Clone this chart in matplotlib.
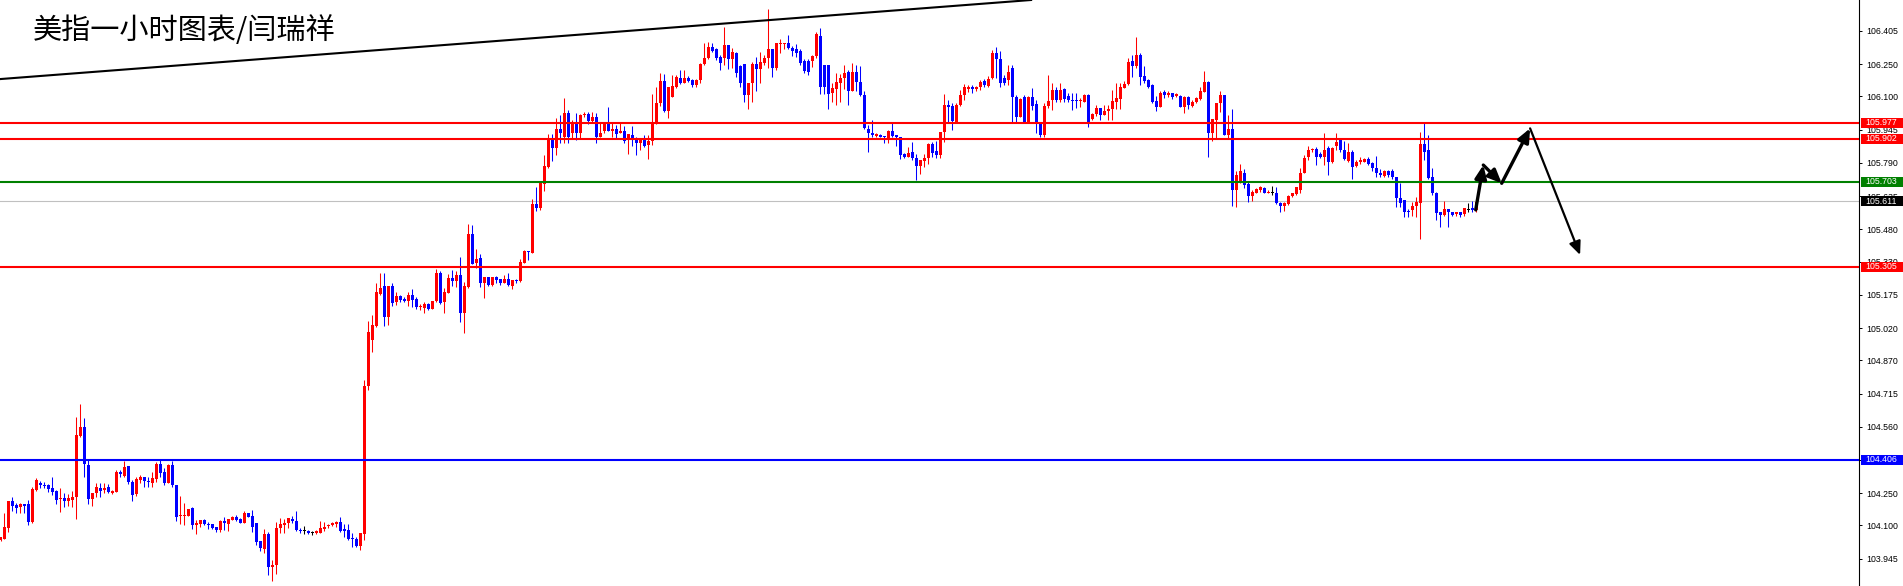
'''
============================================================
USD index (DXY) 1-hour chart, MT4 style candles
============================================================
'''
import matplotlib
matplotlib.use('Agg')
from matplotlib import pyplot as plt
from matplotlib.patches import Rectangle
import matplotlib.transforms as mtransforms
import numpy as np

# ============================================================
# Data (one entry per hourly candle, oldest first)
# ============================================================
opens = [
    104.032, 104.038, 104.088, 104.215, 104.197, 104.184, 104.200, 104.200, 104.116, 104.265,
    104.296, 104.289, 104.287, 104.274, 104.262, 104.222, 104.228, 104.215, 104.219, 104.231,
    104.517, 104.557, 104.382, 104.225, 104.253, 104.275, 104.265, 104.278, 104.250, 104.256,
    104.349, 104.330, 104.377, 104.302, 104.247, 104.312, 104.324, 104.309, 104.299, 104.318,
    104.386, 104.349, 104.299, 104.380, 104.287, 104.144, 104.147, 104.146, 104.180, 104.100,
    104.107, 104.125, 104.108, 104.107, 104.094, 104.079, 104.122, 104.107, 104.125, 104.141,
    104.132, 104.113, 104.160, 104.144, 104.110, 104.026, 103.992, 104.060, 103.905, 103.914,
    104.087, 104.100, 104.110, 104.132, 104.119, 104.080, 104.076, 104.076, 104.069, 104.066,
    104.066, 104.085, 104.097, 104.100, 104.107, 104.116, 104.082, 104.079, 104.041, 104.035,
    104.004, 104.060,
    104.750, 104.964, 105.030, 105.179, 105.216, 105.070, 105.216, 105.141, 105.169, 105.157,
    105.148, 105.173, 105.157, 105.117, 105.114, 105.132, 105.110, 105.145, 105.278, 105.141,
    105.185, 105.253, 105.241, 105.266, 105.092, 105.210, 105.459, 105.322, 105.347, 105.229,
    105.256, 105.219, 105.256, 105.247, 105.232, 105.247, 105.216, 105.244, 105.238, 105.325,
    105.378, 105.371, 105.599, 105.580, 105.692, 105.770, 105.900, 105.860,
    105.947, 105.912, 106.024, 105.931, 105.971, 105.931, 106.013, 106.018, 105.987, 106.002,
    105.909, 105.940, 105.971, 105.940, 105.947, 105.931, 105.940, 105.897, 105.922, 105.897,
    105.884, 105.900, 105.872, 105.894, 105.971, 106.068, 106.173, 106.034, 106.099, 106.142,
    106.186, 106.164, 106.186, 106.177, 106.153, 106.177, 106.251, 106.278, 106.329, 106.320,
    106.282, 106.278, 106.340, 106.273, 106.304, 106.242, 106.251, 106.107, 106.164, 106.251,
    106.226, 106.257, 106.278, 106.320, 106.231, 106.344, 106.344, 106.348, 106.324, 106.320,
    106.313, 106.267, 106.267, 106.267, 106.288, 106.382, 106.246, 106.246, 106.117, 106.133,
    106.164, 106.184, 106.215, 106.127, 106.215, 106.169, 106.107,
    105.947, 105.931, 105.916, 105.919, 105.916, 105.900, 105.937, 105.920, 105.912, 105.832,
    105.819, 105.841, 105.811, 105.776, 105.801, 105.811, 105.878, 105.847, 105.827, 105.936,
    106.060, 106.055, 105.982, 106.060,
    106.107, 106.133, 106.142, 106.133, 106.142, 106.173, 106.149, 106.184, 106.304, 106.273,
    106.184, 106.177, 106.231, 106.096, 106.006, 106.099, 105.978, 106.099, 106.065, 105.978,
    105.920, 106.055, 106.083, 106.130, 106.083, 106.133, 106.102, 106.083, 106.083, 106.080,
    106.076, 106.107,
    105.993, 106.018, 106.046, 106.015, 106.034, 106.040, 106.076, 106.090, 106.139, 106.158,
    106.267, 106.242, 106.293, 106.195, 106.177, 106.153, 106.080, 106.052, 106.122, 106.107,
    106.114, 106.102, 106.102, 106.052, 106.099, 106.055, 106.076, 106.086, 106.122, 106.169,
    105.928, 105.991, 106.068, 106.107, 105.921, 105.947, 105.664, 105.703, 105.742, 105.692,
    105.636, 105.652, 105.664, 105.672, 105.652, 105.652, 105.652, 105.605, 105.590, 105.599,
    105.636, 105.646, 105.664, 105.745, 105.816, 105.848, 105.854, 105.832, 105.816, 105.858,
    105.796, 105.869, 105.897, 105.851, 105.801, 105.843, 105.776, 105.792, 105.796, 105.807,
    105.789, 105.765, 105.745, 105.729, 105.754, 105.750, 105.726, 105.625, 105.618, 105.568,
    105.571, 105.590, 105.605, 105.879, 105.848, 105.723, 105.652, 105.559, 105.548, 105.574,
    105.559, 105.551, 105.559, 105.552, 105.574, 105.579, 105.571,
]
highs = [
    104.048, 104.156, 104.215, 104.234, 104.206, 104.203, 104.200, 104.219, 104.281, 104.320,
    104.307, 104.301, 104.292, 104.324, 104.265, 104.273, 104.250, 104.247, 104.261, 104.607,
    104.666, 104.599, 104.405, 104.253, 104.296, 104.296, 104.296, 104.293, 104.265, 104.358,
    104.358, 104.399, 104.377, 104.312, 104.324, 104.334, 104.327, 104.327, 104.349, 104.397,
    104.408, 104.366, 104.386, 104.402, 104.287, 104.237, 104.206, 104.177, 104.184, 104.125,
    104.125, 104.128, 104.118, 104.107, 104.094, 104.125, 104.138, 104.128, 104.144, 104.147,
    104.135, 104.169, 104.160, 104.172, 104.113, 104.026, 104.082, 104.069, 103.939, 104.116,
    104.133, 104.128, 104.135, 104.144, 104.166, 104.088, 104.097, 104.079, 104.076, 104.079,
    104.119, 104.116, 104.107, 104.116, 104.119, 104.141, 104.107, 104.107, 104.063, 104.048,
    104.066, 104.778,
    105.053, 105.081, 105.229, 105.278, 105.278, 105.216, 105.229, 105.188, 105.174, 105.163,
    105.188, 105.201, 105.163, 105.132, 105.141, 105.138, 105.148, 105.294, 105.284, 105.205,
    105.272, 105.291, 105.288, 105.350, 105.236, 105.505, 105.502, 105.387, 105.365, 105.256,
    105.256, 105.260, 105.263, 105.247, 105.266, 105.275, 105.244, 105.250, 105.340, 105.384,
    105.378, 105.623, 105.677, 105.698, 105.827, 105.925, 105.925, 105.998,
    106.013, 106.093, 106.037, 105.990, 106.021, 106.018, 106.029, 106.029, 106.029, 106.021,
    105.978, 105.971, 106.049, 105.975, 105.967, 105.978, 105.962, 105.925, 105.962, 105.909,
    105.905, 105.920, 105.920, 106.111, 106.142, 106.208, 106.204, 106.142, 106.200, 106.198,
    106.223, 106.223, 106.195, 106.180, 106.183, 106.257, 106.351, 106.355, 106.351, 106.324,
    106.293, 106.422, 106.340, 106.324, 106.309, 106.246, 106.251, 106.164, 106.262, 106.285,
    106.309, 106.293, 106.506, 106.320, 106.351, 106.366, 106.351, 106.386, 106.335, 106.344,
    106.320, 106.273, 106.273, 106.293, 106.402, 106.417, 106.246, 106.246, 106.161, 106.211,
    106.204, 106.246, 106.223, 106.254, 106.246, 106.242, 106.127,
    105.967, 105.990, 105.928, 105.925, 105.916, 105.944, 105.978, 105.920, 105.912, 105.835,
    105.863, 105.889, 105.832, 105.804, 105.832, 105.884, 105.889, 105.894, 105.936, 106.111,
    106.083, 106.071, 106.071, 106.130,
    106.158, 106.153, 106.153, 106.149, 106.177, 106.180, 106.195, 106.316, 106.332, 106.313,
    106.200, 106.246, 106.246, 106.107, 106.091, 106.107, 106.102, 106.138, 106.083, 105.982,
    106.068, 106.200, 106.164, 106.142, 106.164, 106.138, 106.114, 106.114, 106.114, 106.091,
    106.111, 106.111,
    106.021, 106.060, 106.046, 106.060, 106.060, 106.130, 106.164, 106.164, 106.174, 106.278,
    106.293, 106.379, 106.304, 106.242, 106.180, 106.158, 106.102, 106.127, 106.130, 106.127,
    106.118, 106.114, 106.107, 106.102, 106.102, 106.083, 106.096, 106.146, 106.220, 106.174,
    105.994, 106.071, 106.123, 106.107, 106.014, 106.040, 105.754, 105.785, 105.761, 105.703,
    105.664, 105.672, 105.683, 105.677, 105.664, 105.683, 105.680, 105.610, 105.610, 105.641,
    105.652, 105.680, 105.765, 105.827, 105.869, 105.858, 105.866, 105.843, 105.931, 105.869,
    105.866, 105.928, 105.900, 105.890, 105.885, 105.848, 105.804, 105.816, 105.812, 105.816,
    105.792, 105.823, 105.761, 105.757, 105.757, 105.761, 105.726, 105.698, 105.618, 105.574,
    105.610, 105.633, 105.936, 105.978, 105.921, 105.765, 105.656, 105.563, 105.614, 105.574,
    105.563, 105.559, 105.562, 105.579, 105.605, 105.614, 105.614,
]
lows = [
    104.026, 104.035, 104.071, 104.169, 104.160, 104.160, 104.160, 104.100, 104.110, 104.262,
    104.276, 104.276, 104.257, 104.240, 104.198, 104.164, 104.184, 104.192, 104.184, 104.132,
    104.514, 104.327, 104.200, 104.191, 104.231, 104.234, 104.250, 104.250, 104.247, 104.256,
    104.327, 104.327, 104.293, 104.215, 104.237, 104.296, 104.281, 104.281, 104.278, 104.304,
    104.327, 104.289, 104.296, 104.281, 104.122, 104.107, 104.104, 104.144, 104.085, 104.060,
    104.094, 104.100, 104.085, 104.085, 104.071, 104.071, 104.079, 104.076, 104.125, 104.122,
    104.110, 104.110, 104.141, 104.071, 104.007, 103.979, 103.970, 103.869, 103.843, 103.874,
    104.063, 104.063, 104.087, 104.110, 104.076, 104.063, 104.060, 104.060, 104.055, 104.060,
    104.063, 104.076, 104.088, 104.097, 104.094, 104.069, 104.048, 104.032, 104.001, 103.998,
    103.985, 104.032,
    104.731, 104.909, 105.026, 105.176, 105.030, 105.034, 105.123, 105.126, 105.143, 105.143,
    105.123, 105.117, 105.107, 105.104, 105.089, 105.104, 105.107, 105.141, 105.132, 105.092,
    105.182, 105.216, 105.213, 105.048, 104.998, 105.207, 105.319, 105.298, 105.213, 105.160,
    105.216, 105.216, 105.232, 105.219, 105.229, 105.216, 105.201, 105.229, 105.235, 105.322,
    105.337, 105.370, 105.568, 105.571, 105.661, 105.765, 105.801, 105.827,
    105.881, 105.884, 105.884, 105.900, 105.897, 105.900, 106.002, 105.971, 105.975, 105.884,
    105.909, 105.931, 105.940, 105.912, 105.905, 105.928, 105.884, 105.832, 105.869, 105.827,
    105.850, 105.866, 105.807, 105.874, 105.971, 106.055, 106.029, 105.999, 106.096, 106.138,
    106.158, 106.161, 106.169, 106.142, 106.145, 106.161, 106.246, 106.273, 106.309, 106.270,
    106.223, 106.246, 106.226, 106.231, 106.189, 106.142, 106.076, 106.040, 106.076, 106.127,
    106.164, 106.246, 106.231, 106.189, 106.223, 106.304, 106.320, 106.320, 106.288, 106.282,
    106.246, 106.211, 106.200, 106.239, 106.278, 106.111, 106.111, 106.040, 106.076, 106.060,
    106.076, 106.133, 106.060, 106.127, 106.127, 106.102, 105.947,
    105.843, 105.912, 105.912, 105.909, 105.885, 105.885, 105.912, 105.869, 105.807, 105.811,
    105.819, 105.804, 105.710, 105.738, 105.773, 105.785, 105.819, 105.811, 105.811, 105.889,
    105.975, 105.944, 105.978, 106.055,
    106.083, 106.122, 106.117, 106.127, 106.130, 106.142, 106.142, 106.180, 106.184, 106.142,
    106.153, 106.153, 105.982, 105.978, 106.002, 105.975, 105.975, 106.037, 105.928, 105.909,
    105.909, 106.044, 106.037, 106.076, 106.076, 106.076, 106.076, 106.037, 106.044, 106.049,
    106.076, 105.959,
    105.990, 106.009, 105.990, 106.013, 105.990, 105.990, 106.040, 106.040, 106.138, 106.153,
    106.189, 106.231, 106.153, 106.164, 106.138, 106.068, 106.034, 106.049, 106.091, 106.096,
    106.090, 106.096, 106.049, 106.024, 106.040, 106.049, 106.071, 106.083, 106.122, 105.816,
    105.890, 105.900, 106.029, 105.921, 105.900, 105.590, 105.586, 105.698, 105.672, 105.610,
    105.614, 105.649, 105.656, 105.649, 105.649, 105.641, 105.599, 105.563, 105.568, 105.594,
    105.633, 105.641, 105.649, 105.742, 105.804, 105.843, 105.781, 105.812, 105.781, 105.734,
    105.789, 105.851, 105.843, 105.804, 105.796, 105.714, 105.770, 105.785, 105.792, 105.781,
    105.750, 105.726, 105.723, 105.726, 105.723, 105.714, 105.583, 105.583, 105.540, 105.537,
    105.543, 105.537, 105.434, 105.804, 105.714, 105.641, 105.524, 105.493, 105.543, 105.493,
    105.543, 105.543, 105.540, 105.543, 105.563, 105.559, 105.559,
]
closes = [
    104.045, 104.094, 104.215, 104.191, 104.183, 104.201, 104.191, 104.116, 104.270, 104.312,
    104.287, 104.284, 104.271, 104.256, 104.219, 104.228, 104.212, 104.228, 104.234, 104.522,
    104.560, 104.385, 104.225, 104.253, 104.278, 104.262, 104.276, 104.257, 104.261, 104.349,
    104.338, 104.371, 104.302, 104.242, 104.316, 104.326, 104.309, 104.301, 104.321, 104.386,
    104.346, 104.299, 104.380, 104.287, 104.141, 104.149, 104.150, 104.177, 104.102, 104.110,
    104.125, 104.107, 104.105, 104.088, 104.079, 104.122, 104.113, 104.128, 104.141, 104.125,
    104.113, 104.160, 104.141, 104.094, 104.023, 103.995, 104.060, 103.905, 103.914, 104.088,
    104.107, 104.110, 104.135, 104.119, 104.079, 104.076, 104.076, 104.066, 104.069, 104.073,
    104.088, 104.094, 104.104, 104.110, 104.116, 104.076, 104.073, 104.038, 104.035, 104.004,
    104.063, 104.750,
    105.002, 105.034, 105.188, 105.207, 105.070, 105.216, 105.138, 105.169, 105.151, 105.148,
    105.173, 105.151, 105.117, 105.123, 105.132, 105.110, 105.145, 105.278, 105.135, 105.188,
    105.253, 105.241, 105.266, 105.092, 105.216, 105.459, 105.319, 105.340, 105.232, 105.256,
    105.219, 105.256, 105.244, 105.232, 105.247, 105.219, 105.244, 105.238, 105.328, 105.378,
    105.375, 105.598, 105.580, 105.695, 105.776, 105.905, 105.860, 105.947,
    105.928, 106.024, 105.912, 105.971, 105.931, 106.013, 106.018, 105.987, 106.006, 105.912,
    105.931, 105.971, 105.940, 105.947, 105.925, 105.940, 105.894, 105.925, 105.897, 105.884,
    105.900, 105.869, 105.894, 105.971, 106.068, 106.173, 106.034, 106.142, 106.149, 106.189,
    106.161, 106.186, 106.173, 106.153, 106.177, 106.251, 106.278, 106.329, 106.313, 106.278,
    106.254, 106.340, 106.273, 106.309, 106.211, 106.164, 106.107, 106.164, 106.251, 106.226,
    106.262, 106.278, 106.320, 106.231, 106.351, 106.351, 106.346, 106.324, 106.313, 106.304,
    106.257, 106.220, 106.215, 106.288, 106.391, 106.142, 106.142, 106.111, 106.138, 106.169,
    106.184, 106.211, 106.127, 106.215, 106.169, 106.107, 105.951,
    105.928, 105.919, 105.923, 105.912, 105.912, 105.937, 105.916, 105.912, 105.827, 105.819,
    105.838, 105.811, 105.776, 105.804, 105.811, 105.878, 105.838, 105.827, 105.936, 106.060,
    106.052, 105.987, 106.060, 106.107,
    106.142, 106.142, 106.133, 106.142, 106.169, 106.152, 106.183, 106.304, 106.273, 106.161,
    106.161, 106.215, 106.096, 106.006, 106.086, 105.978, 106.099, 106.055, 105.978, 105.920,
    106.055, 106.080, 106.130, 106.083, 106.130, 106.086, 106.083, 106.080, 106.080, 106.083,
    106.107, 105.978,
    106.018, 106.046, 106.013, 106.034, 106.040, 106.080, 106.091, 106.142, 106.158, 106.262,
    106.242, 106.293, 106.192, 106.174, 106.146, 106.076, 106.052, 106.118, 106.107, 106.118,
    106.096, 106.111, 106.052, 106.099, 106.060, 106.076, 106.091, 106.127, 106.169, 105.928,
    105.994, 106.071, 106.107, 105.921, 105.947, 105.664, 105.734, 105.750, 105.688, 105.636,
    105.656, 105.667, 105.677, 105.652, 105.655, 105.652, 105.605, 105.590, 105.602, 105.636,
    105.649, 105.677, 105.745, 105.812, 105.851, 105.854, 105.816, 105.816, 105.848, 105.796,
    105.858, 105.888, 105.851, 105.807, 105.843, 105.770, 105.796, 105.804, 105.807, 105.785,
    105.765, 105.742, 105.734, 105.754, 105.734, 105.726, 105.625, 105.605, 105.559, 105.559,
    105.590, 105.610, 105.879, 105.843, 105.719, 105.652, 105.555, 105.548, 105.574, 105.559,
    105.548, 105.559, 105.548, 105.579, 105.574, 105.571, 105.610,
]

# horizontal levels drawn on the chart
red_levels = [105.977, 105.902, 105.305]
green_level = 105.703
blue_level = 104.406
bid_price = 105.611

# price scale ticks
tick_values = [103.945, 104.100, 104.250, 104.405, 104.560, 104.715, 104.870, 105.020,
               105.175, 105.330, 105.480, 105.635, 105.790, 105.945, 106.100, 106.250, 106.405]
top_cut_tick = 106.560

# trend line anchors (bar index, price)
trend_x = [0, 258]
trend_y = [106.181, 106.550]

# projected path drawn with arrows (bar index, price)
path_x = [368.8, 370.7, 375.3, 382.4, 394.9]
path_y = [105.571, 105.780, 105.695, 105.951, 105.361]

title = '美指一小时图表/闫瑞祥'

# ============================================================
# Figure setup
# ============================================================
W, H = 1903, 586
AX_W = 1859  # pixel position of the price axis line
plt.rcParams['font.family'] = ['Liberation Sans', 'DejaVu Sans']

fig = plt.figure(figsize=(W / 100, H / 100), dpi=100)
ax = fig.add_axes([0, 0, AX_W / W, 1])

y_lo, y_hi = 103.8176, 106.5495
ax.set_ylim(y_lo, y_hi)
ax.set_xlim(-0.125, -0.125 + AX_W / 4)
px = (y_hi - y_lo) / H   # price per pixel

# ============================================================
# Candles
# ============================================================
o = np.array(opens)
h = np.array(highs)
l = np.array(lows)
c = np.array(closes)
idx = np.arange(len(c))

cols = np.where(c > o, '#ff0000', np.where(c < o, '#0000ff', '#000000'))
body = np.abs(c - o)
bottom = np.minimum(o, c)
flat = body < px
bottom = np.where(flat, (o + c) / 2 - px / 2, bottom)
body = np.where(flat, px, body)

ax.vlines(idx, l, h, colors=cols, linewidth=0.75, zorder=3)
ax.bar(idx, body, bottom=bottom, width=0.75, color=cols, linewidth=0, zorder=3)

# ============================================================
# Lines
# ============================================================
ax.axhline(bid_price, color='#c0c0c0', lw=0.8, zorder=2)
for lv in red_levels:
    ax.axhline(lv, color='#ff0000', lw=1.5, zorder=4)
ax.axhline(green_level, color='#008000', lw=1.5, zorder=4)
ax.axhline(blue_level, color='#0000ff', lw=1.5, zorder=4)

ax.axline((trend_x[0], trend_y[0]), (trend_x[1], trend_y[1]), color='black', lw=1.5, zorder=4)

for k in range(len(path_x) - 1):
    lw = 2.4 if k < 3 else 1.6
    ax.annotate('', xy=(path_x[k + 1], path_y[k + 1]), xytext=(path_x[k], path_y[k]),
                arrowprops=dict(arrowstyle='-|>,head_length=0.8,head_width=0.35',
                                color='black', lw=lw, shrinkA=0, shrinkB=0),
                zorder=5)

# ============================================================
# Price axis
# ============================================================
for s in ['left', 'top', 'bottom']:
    ax.spines[s].set_visible(False)
ax.spines['right'].set_linewidth(0.8)
ax.set_xticks([])
ax.yaxis.tick_right()
ax.set_yticks(tick_values)
ax.set_yticklabels(['%.3f' % v for v in tick_values])
ax.tick_params(axis='y', direction='out', length=2.5, width=0.7, pad=3, labelsize=6.3)

trans = mtransforms.blended_transform_factory(ax.transAxes, ax.transData)
ax.text((AX_W + 7) / AX_W, top_cut_tick, '%.3f' % top_cut_tick, transform=trans,
        fontsize=6.3, va='center', ha='left', clip_on=False)

box_levels = red_levels + [green_level, blue_level, bid_price]
box_colors = ['#ff0000'] * 3 + ['#008000', '#0000ff', '#000000']
box_h = 10 * px
for lv, bc in zip(box_levels, box_colors):
    ax.add_patch(Rectangle(((AX_W + 1.5) / AX_W, lv - box_h / 2), (W - AX_W) / AX_W, box_h,
                           transform=trans, facecolor=bc, edgecolor='none',
                           clip_on=False, zorder=6))
    ax.text((AX_W + 6) / AX_W, lv, '%.3f' % lv, transform=trans, color='white',
            fontsize=6.3, va='center', ha='left', clip_on=False, zorder=7)

# ============================================================
# Title
# ============================================================
fig.text(33 / W, 1 - 31 / H, title, fontsize=21, va='center', ha='left',
         family=['Noto Sans CJK SC', 'DejaVu Sans'])

fig.savefig('out.png', dpi=100)
